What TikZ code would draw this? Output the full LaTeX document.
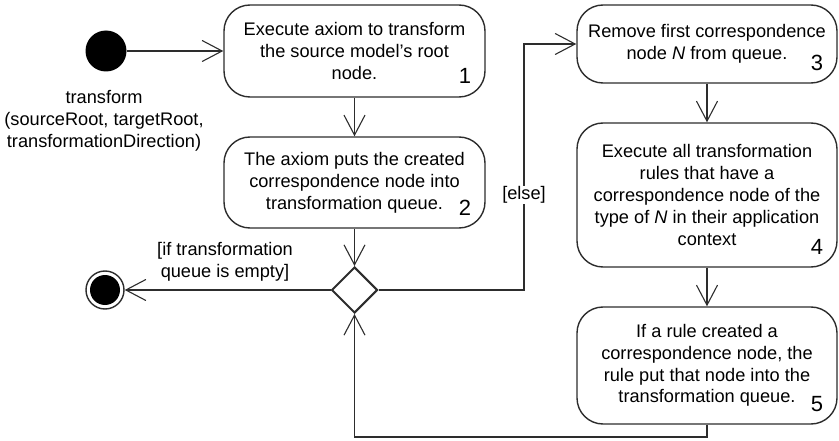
\documentclass[tikz,border=0pt]{standalone}
\usepackage{fontspec}
\setmainfont{Liberation Sans}
\usetikzlibrary{arrows.meta,shapes.geometric}
\definecolor{ink}{RGB}{45,45,45}
\begin{document}
\begin{tikzpicture}[x=1pt,y=-1pt,
  every node/.style={font=\fontsize{18.2}{21.8}\selectfont, text=black},
  action/.style={draw=ink, line width=1.4pt, rounded corners=26pt,
    minimum width=261pt, align=center, inner sep=0pt},
  num/.style={font=\fontsize{22}{24}\selectfont, inner sep=0pt},
  flow/.style={draw=ink, line width=1.4pt,
    -{Straight Barb[length=20pt,width=21pt,line width=1.1pt]}},
  guard/.style={align=center, inner sep=1pt}]
\useasboundingbox (0,0) rectangle (839,441);

% initial and final states
\fill[black] (106,51) circle (20.5pt);
\node[circle, minimum size=41pt, inner sep=0pt] (start) at (106,51) {};
\node[align=center, inner sep=0pt] (startlbl) at (104,121)
  {transform\\(sourceRoot, targetRoot,\\transformationDirection)};
\node[circle, draw=ink, line width=1.4pt, minimum size=38pt, inner sep=0pt] (final) at (105,290) {};
\fill[black] (final.center) circle (15pt);

% actions
\node[action, minimum height=92pt] (box1) at (354.5,51)
  {Execute axiom to transform\\the source model's root\\node.};
\node[num] (n1) at (465,76) {1};
\node[action, minimum height=91pt] (box2) at (354.5,182.5)
  {The axiom puts the created\\correspondence node into\\transformation queue.};
\node[num] (n2) at (465,208) {2};
\node[action, minimum width=260pt, minimum height=78pt] (box3) at (707,44)
  {Remove first correspondence\\node \textit{N} from queue.};
\node[num] (n3) at (817,63) {3};
\node[action, minimum width=260pt, minimum height=144pt] (box4) at (707,195)
  {Execute all transformation\\rules that have a\\correspondence node of the\\type of \textit{N} in their application\\context};
\node[num] (n4) at (817,247) {4};
\node[action, minimum width=260pt, minimum height=117pt] (box5) at (707,365.5)
  {If a rule created a\\correspondence node, the\\rule put that node into the\\transformation queue.};
\node[num] (n5) at (817,404) {5};

% decision
\node[diamond, draw=ink, line width=2pt, minimum width=46pt, minimum height=46pt,
  inner sep=0pt, fill=white] (dec) at (354.5,290) {};
\coordinate (elseturn) at (524,290);
\coordinate (loopturn) at (707,437);

% control flow
\draw[flow] (start) -- (box1);
\draw[flow] (box1) -- (box2);
\draw[flow] (box2) -- (dec);
\draw[flow] (dec.west) -- (final);
\draw[flow] (dec.east) -- (elseturn) |- (box3.west);
\draw[flow] (box3) -- (box4);
\draw[flow] (box4) -- (box5);
\draw[flow] (box5.south) -- (loopturn) -| (dec.south);

% guards
\node[guard] (gempty) at (225,262) {[if transformation\\queue is empty]};
\node[guard, fill=white] (gelse) at (524,195) {[else]};
\end{tikzpicture}
\end{document}
